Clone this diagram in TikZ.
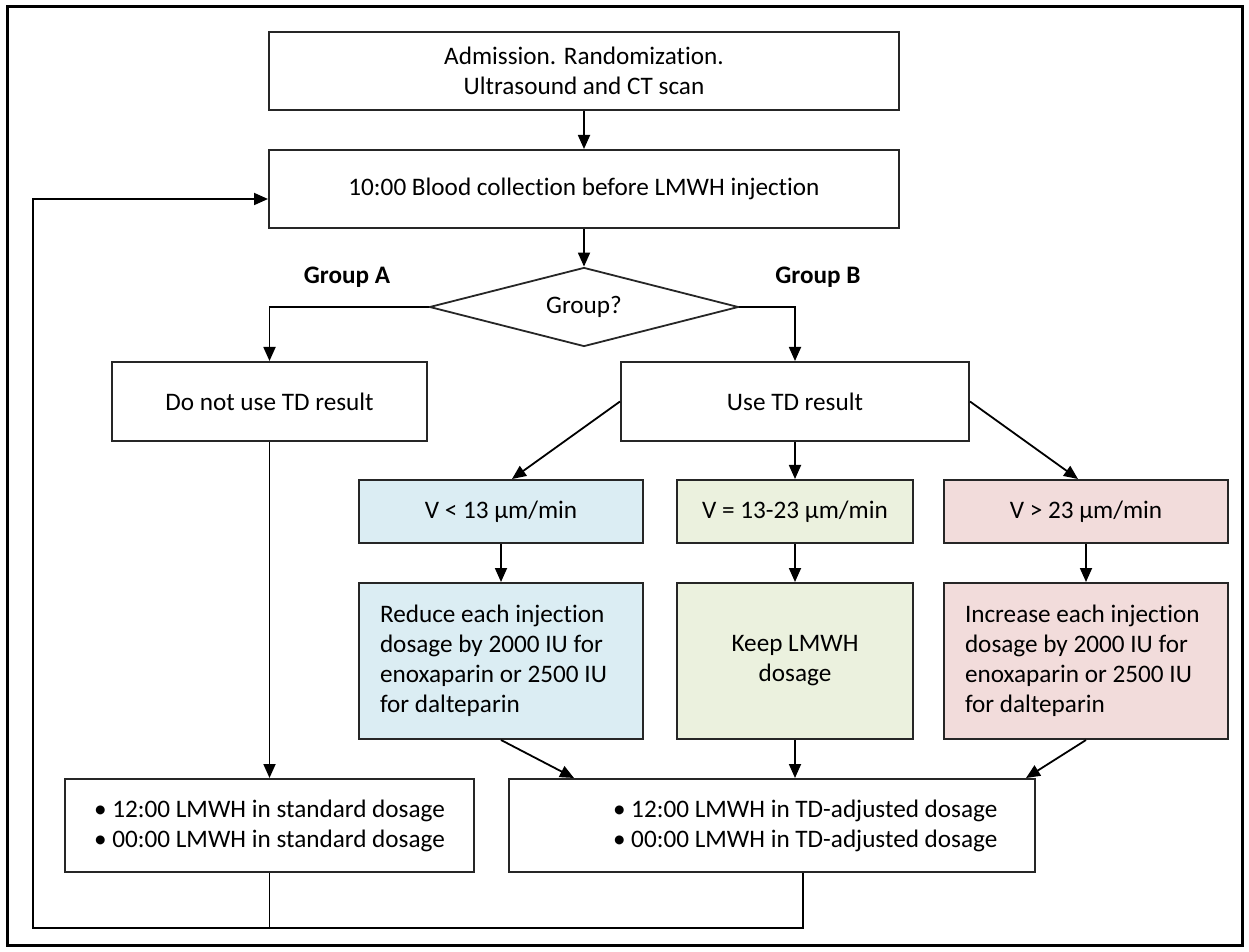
\documentclass[tikz,border=0pt]{standalone}
\usepackage{fontspec}
\setmainfont{Carlito}[Ligatures=NoCommon]
\usetikzlibrary{arrows.meta,shapes.geometric,calc}

\definecolor{lowblue}{RGB}{219,237,243}
\definecolor{midgreen}{RGB}{235,241,222}
\definecolor{highpink}{RGB}{242,220,219}

\begin{document}
\begin{tikzpicture}[x=0.5pt,y=-0.5pt,
    box/.style={draw=black!85, line width=1pt, inner sep=0pt, align=center, font=\fontsize{12.6}{15}\selectfont},
    grplabel/.style={font=\fontsize{12.6}{15}\selectfont\bfseries},
    arr/.style={-{Triangle[width=6pt,length=7pt]}, line width=0.9pt},
    link/.style={line width=0.9pt}]
    \useasboundingbox (0,0) rectangle (1249,952);
    \draw[line width=1.5pt] (7,7) rectangle (1242,945);

    \node[box, minimum width=315pt, minimum height=39pt] at (584,71) (ADM) {Admission. Randomization.\\Ultrasound and CT scan};
    \node[box, minimum width=315pt, minimum height=39pt] at (584,189) (BLD) {10:00 Blood collection before LMWH injection};
    \node[box, diamond, line width=0.9pt, aspect=4, minimum width=154.5pt, minimum height=39.5pt] at (584,307) (GRP) {Group?};
    \node[grplabel] at (347,277) (GA) {Group A};
    \node[grplabel] at (818,277) (GB) {Group B};

    \node[box, minimum width=157.5pt, minimum height=39.5pt] at (269.5,401.5) (NTD) {Do not use TD result};
    \node[box, minimum width=174pt, minimum height=39.5pt] at (795,401.5) (UTD) {Use TD result};

    \node[box, fill=lowblue, minimum width=142pt, minimum height=31.5pt] at (501,511.5) (VLO) {V < 13 µm/min};
    \node[box, fill=midgreen, minimum width=118pt, minimum height=31.5pt] at (795,511.5) (VMD) {V = 13-23 µm/min};
    \node[box, fill=highpink, minimum width=142pt, minimum height=31.5pt] at (1086,511.5) (VHI) {V > 23 µm/min};

    \node[box, fill=lowblue, minimum width=142pt, minimum height=78pt, text width=121pt, align=flush left] at (501,661) (RED) {Reduce each injection\\dosage by 2000 IU for\\enoxaparin or 2500 IU\\for dalteparin};
    \node[box, fill=midgreen, minimum width=118pt, minimum height=78pt] at (795,661) (KEEP) {Keep LMWH\\dosage};
    \node[box, fill=highpink, minimum width=142pt, minimum height=78pt, text width=121pt, align=flush left] at (1086,661) (INC) {Increase each injection\\dosage by 2000 IU for\\enoxaparin or 2500 IU\\for dalteparin};

    \node[box, minimum width=204.5pt, minimum height=46.5pt, align=left] at (269.5,825.5) (STD) {• 12:00 LMWH in standard dosage\\• 00:00 LMWH in standard dosage};
    \node[box, minimum width=263pt, minimum height=46.5pt] at (772,825.5) (TDA) {};
    \node[box, draw=none, anchor=west, align=left] at ($(TDA.west)+(104,0)$) (TDT) {• 12:00 LMWH in TD-adjusted dosage\\• 00:00 LMWH in TD-adjusted dosage};

    \draw[arr] (ADM.south) -- (BLD.north);
    \draw[arr] (BLD.south) -- (GRP.north);
    \draw[arr] (GRP.west) -| (NTD.north);
    \draw[arr] (GRP.east) -| (UTD.north);
    \draw[arr] (UTD.west) -- ($(VLO.north)+(11,0)$);
    \draw[arr] (UTD.south) -- (VMD.north);
    \draw[arr] (UTD.east) -- ($(VHI.north)+(-8,0)$);
    \draw[arr] (VLO.south) -- (RED.north);
    \draw[arr] (VMD.south) -- (KEEP.north);
    \draw[arr] (VHI.south) -- (INC.north);
    \draw[arr] (RED.south) -- ($(TDA.north west)+(66,0)$);
    \draw[arr] (KEEP.south) -- (KEEP.south |- TDA.north);
    \draw[arr] (INC.south) -- ($(TDA.north east)+(-10,0)$);
    \draw[arr] (NTD.south) -- (STD.north);

    \coordinate (LOOP) at (33,928);
    \draw[link] (STD.south) -- (STD.south |- LOOP);
    \draw[arr] ($(TDA.south)+(31,0)$) |- (LOOP) |- ($(BLD.west)+(0,10)$);
\end{tikzpicture}
\end{document}
